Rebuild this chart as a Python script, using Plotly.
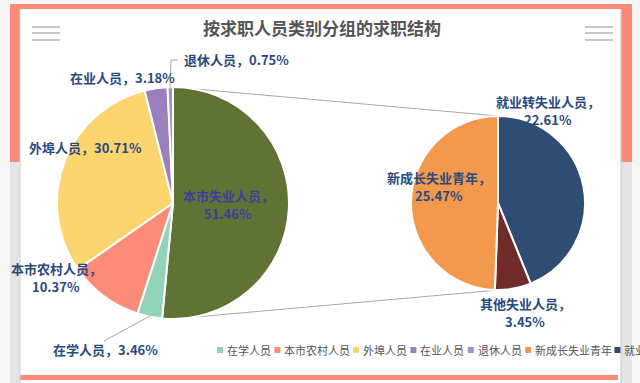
import plotly.graph_objects as go

# ---------------- data ----------------
main_labels = ["本市失业人员", "在学人员", "本市农村人员", "外埠人员", "在业人员", "退休人员"]
main_values = [51.46, 3.46, 10.37, 30.71, 3.18, 0.75]
main_colors = ["#5F7334", "#92D4B8", "#FD8B79", "#FDD56F", "#9A80BC", "#A891C8"]

sub_labels = ["就业转失业人员", "其他失业人员", "新成长失业青年"]
sub_values = [22.61, 3.45, 25.47]
sub_colors = ["#2F4D72", "#722B2B", "#F2994E"]

legend_labels = ["在学人员", "本市农村人员", "外埠人员", "在业人员", "退休人员",
                 "新成长失业青年", "就业转失业人员"]
title_text = "按求职人员类别分组的求职结构"

W, H = 640, 383
FONT = "Noto Sans CJK SC"


def px(x):
    return x / W


def py(y):
    return 1 - y / H


# ---------------- layout geometry (pixels) ----------------
L_CX, L_CY, L_R = 173, 203, 116
R_CX, R_CY, R_R = 498, 203, 87

# label placement (pixels): name -> (x, y, two_lines, colour)
label_pos = {
    "本市失业人员": (228, 204, True, "#3B3F9B"),
    "在学人员": (105, 349, False, "#2A4A7F"),
    "本市农村人员": (56, 277, True, "#2A4A7F"),
    "外埠人员": (85, 148, False, "#2A4A7F"),
    "在业人员": (122, 77, False, "#2A4A7F"),
    "退休人员": (236, 59, False, "#2A4A7F"),
    "就业转失业人员": (548, 110, True, "#2A4A7F"),
    "其他失业人员": (525, 312, True, "#2A4A7F"),
    "新成长失业青年": (439, 186, True, "#2A4A7F"),
}
LINE_GAP = 18

fig = go.Figure()

fig.add_trace(go.Pie(
    labels=main_labels, values=main_values, sort=False, direction="clockwise",
    rotation=0, textinfo="none", showlegend=False,
    marker=dict(colors=main_colors, line=dict(color="white", width=2)),
    domain=dict(x=[px(L_CX - L_R), px(L_CX + L_R)], y=[py(L_CY + L_R), py(L_CY - L_R)]),
    hovertemplate="%{label}: %{value}%<extra></extra>",
))
fig.add_trace(go.Pie(
    labels=sub_labels, values=sub_values, sort=False, direction="clockwise",
    rotation=0, textinfo="none", showlegend=False,
    marker=dict(colors=sub_colors, line=dict(color="white", width=2)),
    domain=dict(x=[px(R_CX - R_R), px(R_CX + R_R)], y=[py(R_CY + R_R), py(R_CY - R_R)]),
    hovertemplate="%{label}: %{value}%<extra></extra>",
))

shapes = []


def rect(x0, y0, x1, y1, color, layer="below"):
    shapes.append(dict(type="rect", xref="paper", yref="paper",
                       x0=px(x0), x1=px(x1), y0=py(y1), y1=py(y0),
                       fillcolor=color, line=dict(width=0), layer=layer))


def line(x0, y0, x1, y1, color, width=1, layer="below"):
    shapes.append(dict(type="line", xref="paper", yref="paper",
                       x0=px(x0), x1=px(x1), y0=py(y0), y1=py(y1),
                       line=dict(color=color, width=width), layer=layer))


SALMON = "#FB8A7A"
# frame
rect(0, 0, W, H, "#F7F7F7")
rect(10, 4, 632, 9, SALMON)
rect(10, 4, 20, 162, SALMON)
rect(621, 4, 632, 162, SALMON)
rect(10, 162, 20, H, "#E4E4E4")
rect(621, 162, 632, H, "#E4E4E4")
rect(20, 9, 621, 383, "#FFFFFF")
rect(20, 375, 618, 380, SALMON)
line(20, 9, 20, 383, "#D0D0D0", 1)
line(621, 9, 621, 383, "#C8C8C8", 1)

# hamburger icons
for yy in (27, 33, 40):
    line(32, yy, 60, yy, "#C8C8C8", 2)
    line(585, yy, 613, yy, "#C8C8C8", 2)

# connectors between the two pies
line(L_CX, L_CY - L_R, R_CX, R_CY - R_R, "#A8A8A8", 1)
line(L_CX, L_CY + L_R, R_CX, R_CY + R_R, "#A8A8A8", 1)

# leader lines
shapes.append(dict(type="path", xref="paper", yref="paper",
                   path=f"M {px(170)},{py(88)} L {px(171)},{py(60)} L {px(178)},{py(60)}",
                   line=dict(color="#A8A8A8", width=1), layer="above"))
line(150, 316, 104, 341, "#A8A8A8", 1, layer="above")

annotations = []


def text_at(x, y, txt, size, col, anchor="center"):
    annotations.append(dict(x=px(x), y=py(y), xref="paper", yref="paper",
                            text=txt, showarrow=False, borderpad=0,
                            xanchor=anchor, yanchor="middle",
                            font=dict(family=FONT, size=size, color=col)))


all_vals = dict(zip(main_labels, main_values))
all_vals.update(zip(sub_labels, sub_values))
for name, (x, y, two, col) in label_pos.items():
    v = all_vals[name]
    if two:
        text_at(x, y - LINE_GAP / 2, f"<b>{name}，</b>", 13, col)
        text_at(x, y + LINE_GAP / 2, f"<b>{v:.2f}%</b>", 13, col)
    else:
        text_at(x, y, f"<b>{name}，{v:.2f}%</b>", 13, col)

# title
text_at(322, 27, f"<b>{title_text}</b>", 17, "#555555")

# custom legend
legend_color = dict(zip(main_labels, main_colors))
legend_color.update(zip(sub_labels, sub_colors))
lx = 217
for name in legend_labels:
    rect(lx, 347, lx + 6, 353, legend_color[name], layer="above")
    text_at(lx + 9, 350, name, 11, "#555555", anchor="left")
    lx += 15 + 10.6 * len(name)

fig.update_layout(
    width=W, height=H, autosize=False,
    margin=dict(l=0, r=0, t=0, b=0),
    paper_bgcolor="#FFFFFF", plot_bgcolor="#FFFFFF",
    shapes=shapes, annotations=annotations,
    font=dict(family=FONT),
    showlegend=False,
)

fig.write_html("out.html", config={"displayModeBar": False},
               post_script="document.body.style.margin='0';document.body.style.overflow='hidden';")
